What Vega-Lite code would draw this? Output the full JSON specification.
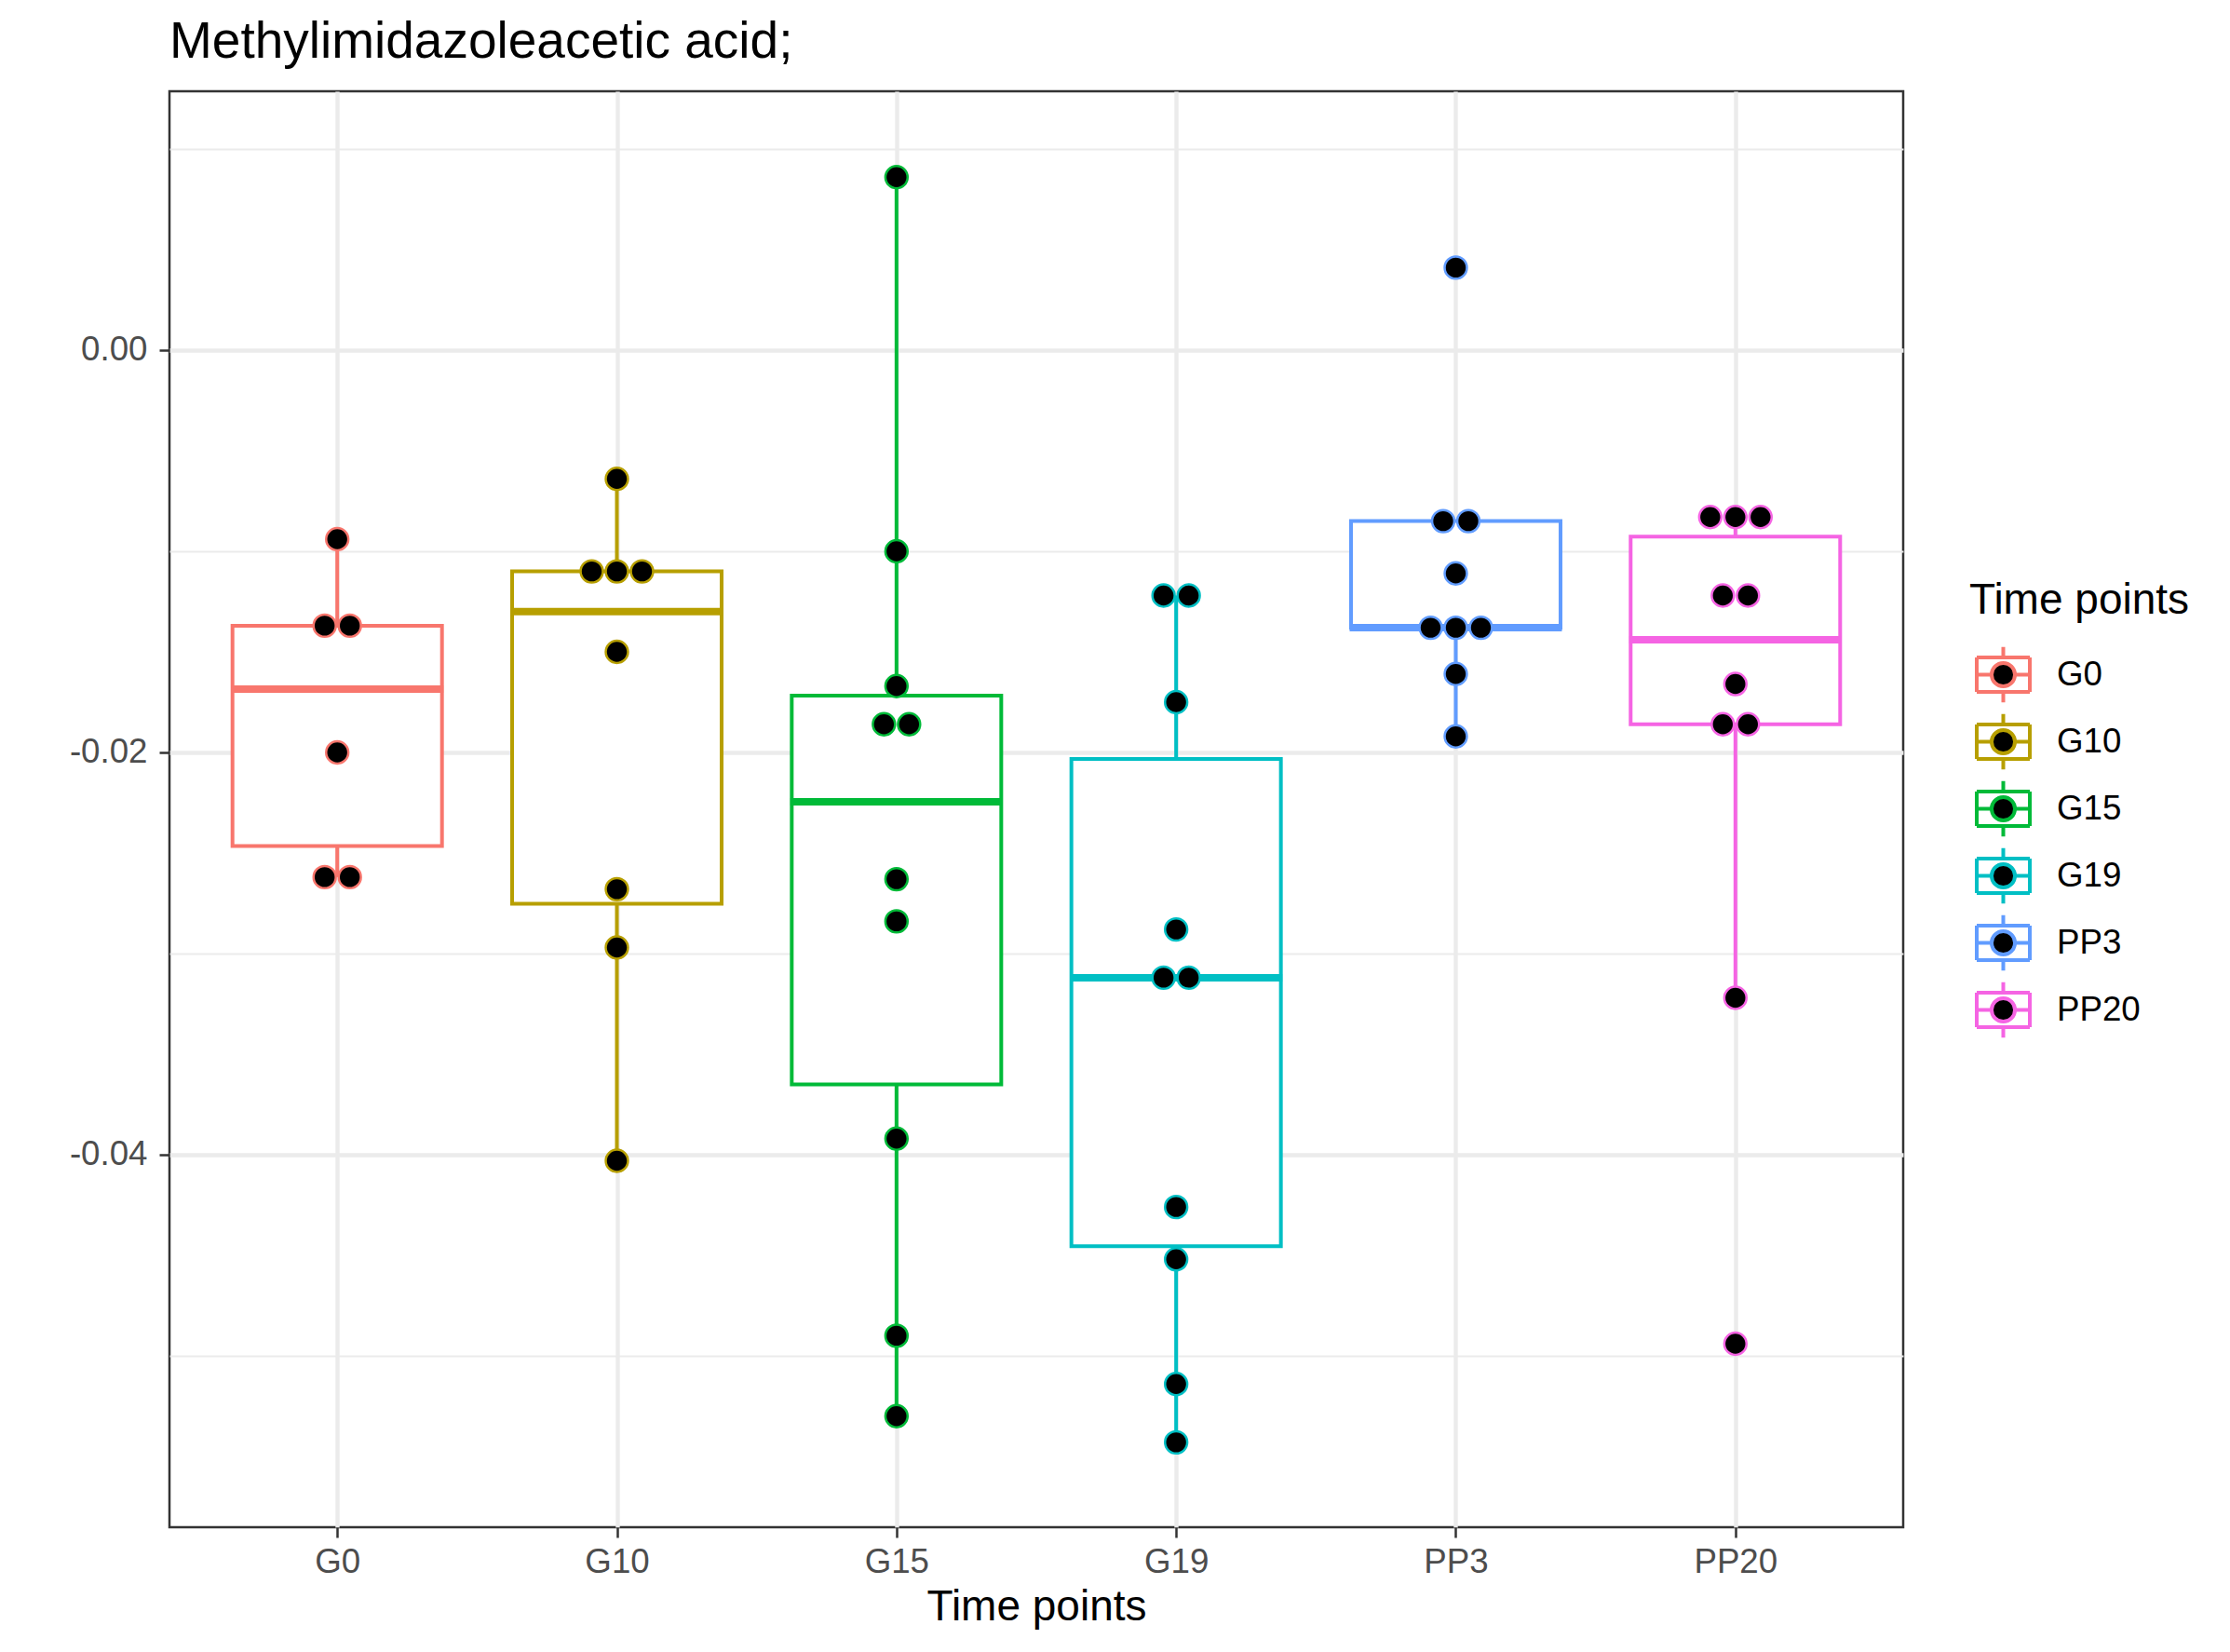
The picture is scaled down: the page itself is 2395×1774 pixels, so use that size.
{
  "$schema": "https://vega.github.io/schema/vega-lite/v6.json",
  "autosize": {"type": "none"},
  "width": 1862,
  "height": 1542,
  "padding": {"left": 182, "top": 98, "right": 351, "bottom": 134},
  "background": "white",
  "config": {
    "font": "Liberation Sans",
    "view": {"stroke": "#333333", "strokeWidth": 2.5},
    "axis": {
      "domain": false,
      "gridColor": "#EBEBEB",
      "tickColor": "#333333",
      "tickWidth": 2.5,
      "tickSize": 11,
      "labelFontSize": 36.7,
      "labelColor": "#4D4D4D",
      "titleFontSize": 46,
      "titleFontWeight": "normal",
      "titleColor": "black"
    },
    "legend": {"padding": 0}
  },
  "title": {
    "text": "Methylimidazoleacetic acid;",
    "anchor": "start",
    "frame": "group",
    "fontSize": 55,
    "fontWeight": "normal",
    "color": "black",
    "offset": 24
  },
  "data": {
    "values": [
      {"group": "G0", "value": -0.0094},
      {"group": "G0", "value": -0.0137},
      {"group": "G0", "value": -0.0137},
      {"group": "G0", "value": -0.0200},
      {"group": "G0", "value": -0.0262},
      {"group": "G0", "value": -0.0262},
      {"group": "G10", "value": -0.0064},
      {"group": "G10", "value": -0.0110},
      {"group": "G10", "value": -0.0110},
      {"group": "G10", "value": -0.0110},
      {"group": "G10", "value": -0.0150},
      {"group": "G10", "value": -0.0268},
      {"group": "G10", "value": -0.0297},
      {"group": "G10", "value": -0.0403},
      {"group": "G15", "value": 0.0086},
      {"group": "G15", "value": -0.0100},
      {"group": "G15", "value": -0.0167},
      {"group": "G15", "value": -0.0186},
      {"group": "G15", "value": -0.0186},
      {"group": "G15", "value": -0.0263},
      {"group": "G15", "value": -0.0284},
      {"group": "G15", "value": -0.0392},
      {"group": "G15", "value": -0.0490},
      {"group": "G15", "value": -0.0530},
      {"group": "G19", "value": -0.0122},
      {"group": "G19", "value": -0.0122},
      {"group": "G19", "value": -0.0175},
      {"group": "G19", "value": -0.0288},
      {"group": "G19", "value": -0.0312},
      {"group": "G19", "value": -0.0312},
      {"group": "G19", "value": -0.0426},
      {"group": "G19", "value": -0.0452},
      {"group": "G19", "value": -0.0514},
      {"group": "G19", "value": -0.0543},
      {"group": "PP3", "value": 0.0041},
      {"group": "PP3", "value": -0.0085},
      {"group": "PP3", "value": -0.0085},
      {"group": "PP3", "value": -0.0111},
      {"group": "PP3", "value": -0.0138},
      {"group": "PP3", "value": -0.0138},
      {"group": "PP3", "value": -0.0138},
      {"group": "PP3", "value": -0.0161},
      {"group": "PP3", "value": -0.0192},
      {"group": "PP20", "value": -0.0083},
      {"group": "PP20", "value": -0.0083},
      {"group": "PP20", "value": -0.0083},
      {"group": "PP20", "value": -0.0122},
      {"group": "PP20", "value": -0.0122},
      {"group": "PP20", "value": -0.0166},
      {"group": "PP20", "value": -0.0186},
      {"group": "PP20", "value": -0.0186},
      {"group": "PP20", "value": -0.0322},
      {"group": "PP20", "value": -0.0494}
    ]
  },
  "layer": [
    {
      "mark": {
        "type": "boxplot",
        "extent": 1.5,
        "size": 225,
        "outliers": false,
        "box": {"fill": "white", "strokeWidth": 4, "opacity": 1},
        "median": {"thickness": 1, "strokeWidth": 7, "size": 221, "opacity": 1, "strokeOpacity": 1},
        "rule": {"strokeWidth": 4, "opacity": 1}
      },
      "encoding": {
        "x": {
          "field": "group", "type": "nominal",
          "sort": ["G0", "G10", "G15", "G19", "PP3", "PP20"],
          "scale": {"type": "point", "padding": 0.6, "domain": ["G0", "G10", "G15", "G19", "PP3", "PP20"]},
          "axis": {"title": "Time points", "labelAngle": 0, "labelPadding": 8, "titlePadding": 8, "grid": true, "gridWidth": 4.4}
        },
        "y": {
          "field": "value", "type": "quantitative",
          "scale": {"domain": [-0.058519, 0.01287], "nice": false, "zero": false},
          "axis": {
            "title": null,
            "values": [-0.05, -0.04, -0.03, -0.02, -0.01, 0, 0.01],
            "labelPadding": 13,
            "labelExpr": "round(datum.value*100) % 2 !== 0 ? '' : replace(format(datum.value, '.2f'), '\u2212', '-')",
            "gridWidth": {"condition": {"test": "round(datum.value*100) % 2 !== 0", "value": 2.2}, "value": 4.4},
            "tickOpacity": {"condition": {"test": "round(datum.value*100) % 2 !== 0", "value": 0}, "value": 1}
          }
        },
        "stroke": {
          "field": "group", "type": "nominal",
          "scale": {"domain": ["G0", "G10", "G15", "G19", "PP3", "PP20"], "range": ["#F8766D", "#B79F00", "#00BA38", "#00BFC4", "#619CFF", "#F564E3"]},
          "legend": {
            "title": "Time points",
            "orient": "none",
            "legendX": 1933,
            "legendY": 525,
            "titleFontSize": 46,
            "titleFontWeight": "normal",
            "titleColor": "black",
            "titleLimit": 1000,
            "titlePadding": 25,
            "labelFontSize": 36.7,
            "labelColor": "black",
            "labelOffset": 27,
            "symbolOffset": 6,
            "rowPadding": -5,
            "symbolSize": 3249,
            "symbolStrokeWidth": 4,
            "symbolType": "M-1,-0.65L1,-0.65M1,-0.65L1,0.65M1,0.65L-1,0.65M-1,0.65L-1,-0.65M0,-1.04L0,-0.65M0,0.65L0,1.04M-1,0L-0.44,0M0.44,0L1,0M0.44,0A0.44,0.44,0,1,1,-0.44,0A0.44,0.44,0,1,1,0.44,0Z",
            "symbolFillColor": "black",
            "encode": {"symbols": {"update": {"fill": {"value": "black"}, "opacity": {"value": 1}, "strokeWidth": {"value": 4}}}}
          }
        }
      }
    },
    {
      "transform": [
        {"window": [{"op": "row_number", "as": "rn"}, {"op": "count", "as": "cnt"}], "groupby": ["group", "value"], "frame": [null, null]},
        {"calculate": "datum.rn - (datum.cnt + 1) / 2", "as": "off"}
      ],
      "mark": {"type": "point", "shape": "circle", "filled": true, "fill": "black", "size": 570, "strokeWidth": 2.5, "opacity": 1},
      "encoding": {
        "x": {"field": "group", "type": "nominal", "sort": ["G0", "G10", "G15", "G19", "PP3", "PP20"]},
        "xOffset": {"field": "off", "type": "quantitative", "scale": {"domain": [-1, 1], "range": [-27, 27]}},
        "y": {"field": "value", "type": "quantitative"},
        "stroke": {
          "field": "group", "type": "nominal",
          "legend": {
            "title": "Time points",
            "orient": "none",
            "legendX": 1933,
            "legendY": 525,
            "titleFontSize": 46,
            "titleFontWeight": "normal",
            "titleColor": "black",
            "titleLimit": 1000,
            "titlePadding": 25,
            "labelFontSize": 36.7,
            "labelColor": "black",
            "labelOffset": 27,
            "symbolOffset": 6,
            "rowPadding": -5,
            "symbolSize": 3249,
            "symbolStrokeWidth": 4,
            "symbolType": "M-1,-0.65L1,-0.65M1,-0.65L1,0.65M1,0.65L-1,0.65M-1,0.65L-1,-0.65M0,-1.04L0,-0.65M0,0.65L0,1.04M-1,0L-0.44,0M0.44,0L1,0M0.44,0A0.44,0.44,0,1,1,-0.44,0A0.44,0.44,0,1,1,0.44,0Z",
            "symbolFillColor": "black",
            "encode": {"symbols": {"update": {"fill": {"value": "black"}, "opacity": {"value": 1}, "strokeWidth": {"value": 4}}}}
          }
        }
      }
    }
  ]
}
